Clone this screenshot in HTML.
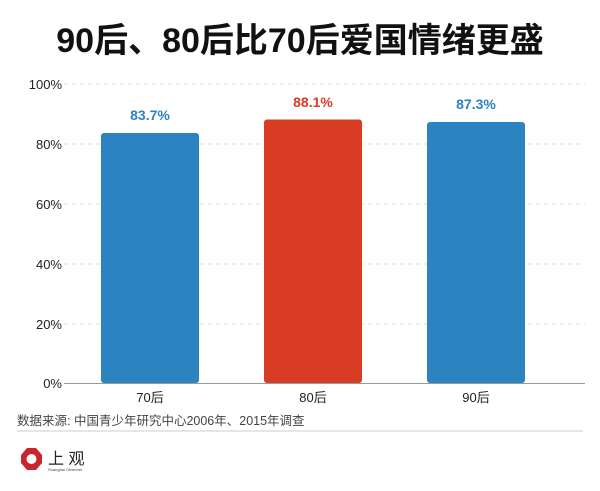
<!DOCTYPE html><html><head><meta charset="utf-8"><style>body{margin:0;background:#fff;width:600px;height:486px;overflow:hidden;font-family:"Liberation Sans","Noto Sans CJK SC",sans-serif}</style></head><body>
<svg width="600" height="486" xmlns="http://www.w3.org/2000/svg" font-family="Liberation Sans, Noto Sans CJK SC, sans-serif">
<text x="300" y="52" text-anchor="middle" font-size="34" font-weight="bold" fill="#111">90后、80后比70后爱国情绪更盛</text>
<g stroke="#ddd" stroke-dasharray="4,4" stroke-width="1">
<line x1="64" x2="585" y1="84" y2="84"/><line x1="64" x2="585" y1="144" y2="144"/><line x1="64" x2="585" y1="204" y2="204"/><line x1="64" x2="585" y1="264" y2="264"/><line x1="64" x2="585" y1="324" y2="324"/></g>
<line x1="64" x2="585" y1="383.5" y2="383.5" stroke="#999"/>
<g font-size="13" fill="#222" text-anchor="end">
<text x="62" y="89">100%</text><text x="62" y="149">80%</text><text x="62" y="209">60%</text><text x="62" y="269">40%</text><text x="62" y="329">20%</text><text x="62" y="388">0%</text></g>
<rect x="101" y="133" width="98" height="250" rx="3" fill="#2b83c0"/>
<rect x="264" y="119.5" width="98" height="263.5" rx="3" fill="#d83c24"/>
<rect x="427" y="122" width="98" height="261" rx="3" fill="#2b83c0"/>
<g font-size="14" font-weight="bold" text-anchor="middle">
<text x="150" y="120" fill="#2b83c0">83.7%</text><text x="313" y="107" fill="#d83c24">88.1%</text><text x="476" y="109" fill="#2b83c0">87.3%</text></g>
<g font-size="13" fill="#222" text-anchor="middle"><text x="150" y="402">70后</text><text x="313" y="402">80后</text><text x="476" y="402">90后</text></g>
<text x="17" y="425" font-size="12.5" fill="#444">数据来源: 中国青少年研究中心2006年、2015年调查</text>
<line x1="17" x2="583" y1="431" y2="431" stroke="#ccc"/>
<polygon points="27,448 36,448 42,455 42,463 36,470 27,470 21,463 21,455" fill="#c9252c"/>
<circle cx="31.5" cy="459" r="5" fill="#fff"/>
<text x="48" y="464" font-size="16" fill="#222">上 观</text>
<text x="48" y="471" font-size="4" fill="#444">Shanghai Observer</text>
</svg></body></html>
